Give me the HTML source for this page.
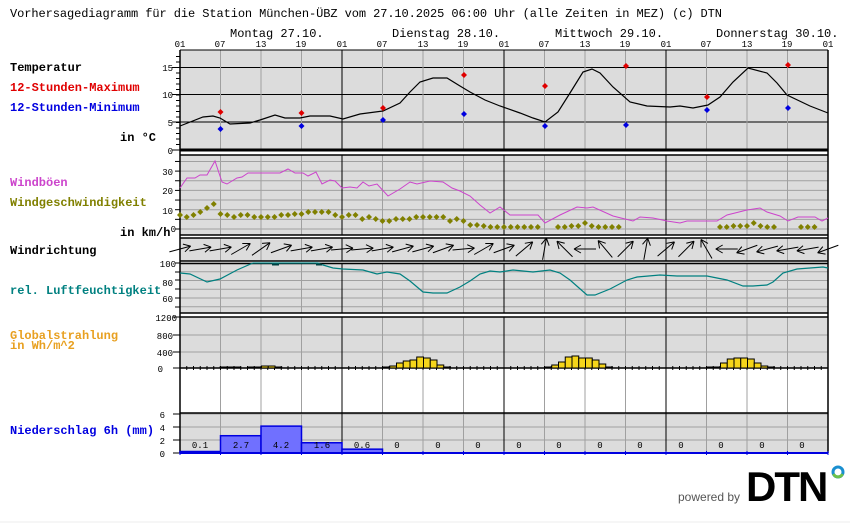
<!DOCTYPE html>
<html><head><meta charset="utf-8"><style>
body{margin:0;background:#fff;width:850px;height:524px;overflow:hidden}
svg{display:block}
.t{font-family:"Liberation Mono",monospace;font-size:12px}
.b{font-family:"Liberation Mono",monospace;font-size:12px;font-weight:bold}
.s{font-family:"Liberation Mono",monospace;font-size:9px}
</style></head><body>
<svg id="g" width="850" height="524" xmlns="http://www.w3.org/2000/svg">
<rect width="850" height="524" fill="#fff"/>
<rect x="180" y="50" width="648" height="100" fill="#dcdcdc"/>
<rect x="180" y="155" width="648" height="80" fill="#dcdcdc"/>
<rect x="180" y="238" width="648" height="23" fill="#dcdcdc"/>
<rect x="180" y="263" width="648" height="50" fill="#dcdcdc"/>
<rect x="180" y="317" width="648" height="51" fill="#dcdcdc"/>
<rect x="180" y="413" width="648" height="40" fill="#dcdcdc"/>
<g id="grid"></g>
<g id="data"></g>
<text class="t" x="10" y="17" textLength="712" lengthAdjust="spacing">Vorhersagediagramm für die Station München-ÜBZ vom 27.10.2025 06:00 Uhr (alle Zeiten in MEZ)   (c) DTN</text>
<text class="t" x="230" y="37">Montag 27.10.</text>
<text class="t" x="392" y="37">Dienstag 28.10.</text>
<text class="t" x="555" y="37">Mittwoch 29.10.</text>
<text class="t" x="716" y="37">Donnerstag 30.10.</text>
<g class="s" text-anchor="middle">
<text x="180" y="47">01</text><text x="220" y="47">07</text><text x="261" y="47">13</text><text x="301" y="47">19</text>
<text x="342" y="47">01</text><text x="382" y="47">07</text><text x="423" y="47">13</text><text x="463" y="47">19</text>
<text x="504" y="47">01</text><text x="544" y="47">07</text><text x="585" y="47">13</text><text x="625" y="47">19</text>
<text x="666" y="47">01</text><text x="706" y="47">07</text><text x="747" y="47">13</text><text x="787" y="47">19</text>
<text x="828" y="47">01</text>
</g>
<g class="s" text-anchor="end">
<text x="173" y="71">15</text><text x="173" y="98">10</text><text x="173" y="126">5</text><text x="173" y="154">0</text>
<text x="173" y="175">30</text><text x="173" y="194">20</text><text x="173" y="214">10</text><text x="176" y="232">0</text>
<text x="176" y="267">100</text><text x="173" y="286">80</text><text x="173" y="302">60</text>
<text x="177" y="321">1200</text><text x="173" y="339">800</text><text x="173" y="356">400</text><text x="163" y="372">0</text>
<text x="165" y="418">6</text><text x="165" y="431">4</text><text x="165" y="444">2</text><text x="165" y="457">0</text>
</g>
<text class="b" x="10" y="71">Temperatur</text>
<text class="b" x="10" y="91" fill="#e00000">12-Stunden-Maximum</text>
<text class="b" x="10" y="111" fill="#0000e0">12-Stunden-Minimum</text>
<text class="b" x="120" y="141">in °C</text>
<text class="b" x="10" y="186" fill="#cc44cc">Windböen</text>
<text class="b" x="10" y="206" fill="#808000">Windgeschwindigkeit</text>
<text class="b" x="120" y="236">in km/h</text>
<text class="b" x="10" y="254">Windrichtung</text>
<text class="b" x="10" y="294" fill="#008080">rel. Luftfeuchtigkeit</text>
<text class="b" x="10" y="339" fill="#e8a020">Globalstrahlung</text>
<text class="b" x="10" y="349" fill="#e8a020">in Wh/m^2</text>
<text class="b" x="10" y="434" fill="#0000e0">Niederschlag 6h (mm)</text>
<g id="ptxt" class="s" text-anchor="middle">
<text x="200" y="448">0.1</text><text x="241" y="448">2.7</text><text x="281" y="448">4.2</text><text x="322" y="448">1.6</text><text x="362" y="448">0.6</text>
<text x="397" y="448">0</text><text x="438" y="448">0</text><text x="478" y="448">0</text><text x="519" y="448">0</text><text x="559" y="448">0</text><text x="600" y="448">0</text><text x="640" y="448">0</text><text x="681" y="448">0</text><text x="721" y="448">0</text><text x="762" y="448">0</text><text x="802" y="448">0</text>
</g>
<text x="678" y="501" font-family="Liberation Sans,sans-serif" font-size="12" fill="#555">powered by</text>
<text x="746" y="501" font-family="Liberation Sans,sans-serif" font-size="42" font-weight="bold" fill="#000" letter-spacing="-2">DTN</text>
<circle cx="838" cy="472" r="5" fill="none" stroke="#1a8fd0" stroke-width="3"/>
<path d="M833.5 474 A5 5 0 0 0 842.5 474" fill="none" stroke="#6cc04a" stroke-width="3"/>
<line x1="0" y1="522" x2="850" y2="522" stroke="#eee"/>
</svg>
<script>
const NS="http://www.w3.org/2000/svg";
const G=document.getElementById('grid'),D=document.getElementById('data'),P=document.getElementById('ptxt');
function el(p,t,a){const e=document.createElementNS(NS,t);for(const k in a)e.setAttribute(k,a[k]);p.appendChild(e);return e;}
function ln(p,x1,y1,x2,y2,c,w){return el(p,'line',{x1,y1,x2,y2,stroke:c,'stroke-width':w||1});}
const X0=180,X1=828,H=6.75;
[67.5,94.5,122].forEach(y=>ln(G,X0,y,X1,y,'#000'));
for(let v=0;v<=35;v+=5){const y=229-1.93*v;ln(G,X0,y,X1,y,'#a0a0a0');}
for(let v=50;v<=100;v+=10){const y=263+(100-v)*0.875;ln(G,X0,y,X1,y,'#a0a0a0');}
[317,335,352].forEach(y=>ln(G,X0,y,X1,y,'#a0a0a0'));
[414,427,440].forEach(y=>ln(G,X0,y,X1,y,'#a0a0a0'));
for(let i=0;i<=16;i++){const x=X0+i*40.5;const day=i%4==0;
 const c=day?'#000':'#a0a0a0';
 [[50,150],[155,235],[238,261],[263,313],[317,368],[413,453]].forEach(s=>ln(G,x,s[0],x,s[1],c));
 ln(G,x,368,x,413,c);
}
for(let y=150;y>=52;y-=5.5)ln(G,176,y,180,y,'#000');
[67.5,94.5,122,150].forEach(y=>ln(G,172,y,180,y,'#000'));
for(let v=0;v<=35;v+=5)ln(G,175,229-1.93*v,180,229-1.93*v,'#000');
[263,272,280,289,298,307].forEach(y=>ln(G,175,y,180,y,'#000'));
[317,335,352,368].forEach(y=>ln(G,173,y,180,y,'#000'));
[414,427,440,453].forEach(y=>ln(G,173,y,180,y,'#000'));
ln(G,X0,50,X1,50,'#000');
ln(G,X0,150,X1,150,'#000',3);ln(G,X0,155,X1,155,'#000',1.5);
ln(G,X0,235,X1,235,'#000',1.5);ln(G,X0,238,X1,238,'#000',1.5);
ln(G,X0,261,X1,261,'#000',1.5);ln(G,X0,263.5,X1,263.5,'#000',1.5);
ln(G,X0,313,X1,313,'#000',1.5);ln(G,X0,317,X1,317,'#000',1.5);
ln(G,X0,368,X1,368,'#000',1.5);ln(G,X0,413,X1,413,'#000',1.5);
ln(G,X0,50,X0,453,'#000',1.5);ln(G,X1,50,X1,453,'#000',1.5);
for(let i=0;i<=96;i++){const x=X0+i*H;ln(G,x,366,x,370,'#000');}
const T=[[180,126],[203,117],[213,116],[220,118],[230,124],[250,123],[260,120],[275,115],[285,118],[300,118],[310,116],[330,116],[343,119],[360,114],[383,111],[400,103],[410,92],[420,82],[433,78],[447,78],[460,86],[470,92],[485,100],[500,106],[520,113],[533,118],[545,122],[558,112],[570,93],[583,72],[592,69],[600,73],[613,87],[630,102],[647,106],[670,107],[680,106],[693,108],[708,105],[720,97],[733,82],[748,68],[767,73],[777,83],[787,95],[810,106],[828,113]];
el(D,'polyline',{points:T.map(p=>p.join(',')).join(' '),fill:'none',stroke:'#000','stroke-width':1.2});
function dot(x,y,c,r){el(D,'path',{d:`M${x-r} ${y}L${x} ${y-r}L${x+r} ${y}L${x} ${y+r}Z`,fill:c});}
const xs=[220.5,301.5,383,464,545,626,707,788];
[112,113,108,75,86,66,97,65].forEach((y,i)=>dot(xs[i],y,'#e00000',3));
[129,126,120,114,126,125,110,108].forEach((y,i)=>dot(xs[i],y,'#0000e0',3));
const WB=[[180,188],[187,178],[195,178],[200,175],[207,175],[215,161],[222,182],[227,184],[237,178],[242,177],[248,173],[280,173],[288,169],[295,173],[303,173],[308,176],[316,172],[322,184],[330,180],[335,181],[342,188],[350,187],[357,188],[363,182],[369,186],[377,184],[388,196],[400,189],[410,182],[417,184],[430,181],[443,182],[452,188],[460,191],[470,196],[480,205],[490,213],[500,207],[510,215],[538,215],[545,223],[560,215],[577,207],[587,208],[593,207],[613,216],[633,221],[640,217],[653,218],[667,221],[680,223],[687,221],[717,221],[727,215],[747,210],[760,208],[767,212],[780,216],[788,221],[798,217],[815,217],[822,221],[828,218]];
el(D,'polyline',{points:WB.map(p=>p.join(',')).join(' '),fill:'none',stroke:'#cc44cc','stroke-width':1});
const WS=[215,217,215,212,208,204,214,215,217,215,215,217,217,217,217,215,215,214,214,212,212,212,212,215,217,215,215,219,217,219,221,221,219,219,219,217,217,217,217,217,221,219,221,225,225,226,227,227,227,227,227,227,227,227,0,0,227,227,226,226,223,226,227,227,227,227];
const WS2={80:227,81:227,82:226,83:226,84:226,85:223,86:226,87:227,88:227,92:227,93:227,94:227};
WS.forEach((y,i)=>{if(y)dot(X0+i*H,y,'#808000',3);});
for(const k in WS2)dot(X0+k*H,WS2[k],'#808000',3);
const RH=[[180,273],[190,274],[207,282],[220,279],[237,270],[253,263],[318,263],[323,265],[333,268],[343,269],[363,270],[377,274],[387,272],[400,274],[410,281],[423,292],[433,293],[447,293],[460,287],[470,281],[480,274],[490,271],[500,272],[513,270],[533,272],[550,270],[560,273],[570,280],[587,295],[595,295],[610,289],[627,280],[637,277],[660,275],[677,276],[707,276],[727,280],[743,286],[753,286],[767,285],[773,282],[783,273],[797,269],[823,267],[828,268]];
el(D,'polyline',{points:RH.map(p=>p.join(',')).join(' '),fill:'none',stroke:'#008080','stroke-width':1.2});
ln(D,272,264.5,279,264.5,'#004040',2);ln(D,316,264.5,322,264.5,'#004040',2);
const A=[15,10,10,30,35,20,10,10,5,5,10,15,15,20,5,30,20,40,80,135,180,130,45,80,40,45,120,180,200,195,190,190,200];
A.forEach((a,k)=>{const cx=180+k*20.25,cy=249,r=a*Math.PI/180,L=11;
 const tx=cx+L*Math.cos(r),ty=cy-L*Math.sin(r),bx=cx-L*Math.cos(r),by=cy+L*Math.sin(r);
 ln(D,bx,by,tx,ty,'#000');
 [150,-150].forEach(d=>{const q=r+d*Math.PI/180;ln(D,tx,ty,tx+8*Math.cos(q),ty-8*Math.sin(q),'#000');});
});
function bars(x0,h){h.forEach((v,i)=>{el(D,'rect',{x:x0+i*H,y:368-v,width:H,height:v,fill:'#f5d51a',stroke:'#000','stroke-width':1});});}
bars(220,[1,1,1]);bars(248,[1,1,2,2,1]);
bars(383,[1,2,5,7,8,11,10,8,3,1]);bars(545,[1,3,6,11,12,10,10,8,4,1]);bars(707,[1,1,5,9,10,10,9,5,2,1]);
[[0.1,180],[2.7,220.5],[4.2,261],[1.6,301.5],[0.6,342]].forEach(p=>{const h=Math.max(p[0]*6.4,1.5);
 el(D,'rect',{x:p[1],y:453-h,width:40.5,height:h,fill:'#7070ff',stroke:'#0000e0','stroke-width':1.5});});
ln(D,X0,453,X1,453,'#0000e0',2);
for(let i=0;i<=16;i++)ln(D,X0+i*40.5,451,X0+i*40.5,455,'#0000e0');
document.getElementById('g').appendChild(P);
</script>
</body></html>
